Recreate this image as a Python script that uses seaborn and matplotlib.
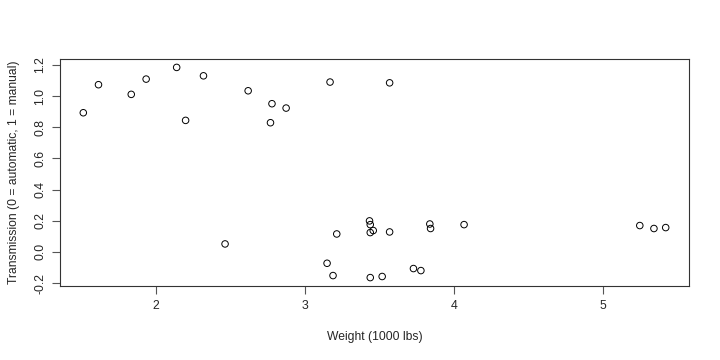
import matplotlib
matplotlib.use("Agg")
import matplotlib.pyplot as plt
import seaborn as sns
import pandas as pd

weight = [2.620, 2.875, 2.320, 3.215, 3.440, 3.460, 3.570, 3.190, 3.150, 3.440,
          3.440, 4.070, 3.730, 3.780, 5.250, 5.424, 5.345, 2.200, 1.615, 1.835,
          2.465, 3.520, 3.435, 3.840, 3.845, 1.935, 2.140, 1.513, 3.170, 2.770,
          3.570, 2.780]
transmission_jit = [1.034, 0.923, 1.130, 0.115, 0.175, 0.137, 0.128, -0.152, -0.073, 0.124,
                    -0.165, 0.175, -0.107, -0.120, 0.169, 0.156, 0.150, 0.844, 1.073, 1.011,
                    0.051, -0.158, 0.199, 0.179, 0.150, 1.109, 1.184, 0.893, 1.090, 0.829,
                    1.085, 0.951]
x_ticks = [2, 3, 4, 5]
y_ticks = [-0.2, 0.0, 0.2, 0.4, 0.6, 0.8, 1.0, 1.2]

df = pd.DataFrame({"wt": weight, "am": transmission_jit})

sns.set_style("white")
plt.rcParams["font.family"] = ["Liberation Sans", "DejaVu Sans"]

fig = plt.figure(figsize=(7.2, 3.6), dpi=100)
ax = fig.add_axes([60/720, 1-286/360, 629/720, 227/360])
sns.scatterplot(data=df, x="wt", y="am", ax=ax, marker="o", s=22,
                facecolor="none", edgecolor="black", linewidth=0.7)

xmin, xmax = min(weight), max(weight)
ymin, ymax = min(transmission_jit), max(transmission_jit)
dx = (xmax - xmin) * 0.04
dy = (ymax - ymin) * 0.04
ax.set_xlim(xmin - dx, xmax + dx)
ax.set_ylim(ymin - dy, ymax + dy)
ax.set_xticks(x_ticks)
ax.set_xticklabels([str(t) for t in x_ticks])
ax.set_yticks(y_ticks)
ax.set_yticklabels([f"{t:.1f}" for t in y_ticks], rotation=90, va="center")
ax.tick_params(axis="both", direction="out", length=6, width=0.8, color="#555555",
               labelsize=8.8, pad=4, bottom=True, left=True)
for sp in ax.spines.values():
    sp.set_color("#333333")
    sp.set_linewidth(0.8)
ax.set_xlabel("Weight (1000 lbs)", fontsize=8.7, labelpad=14)
ax.set_ylabel("Transmission (0 = automatic, 1 = manual)", fontsize=8.7, labelpad=10)

fig.savefig("out.png", dpi=100)
